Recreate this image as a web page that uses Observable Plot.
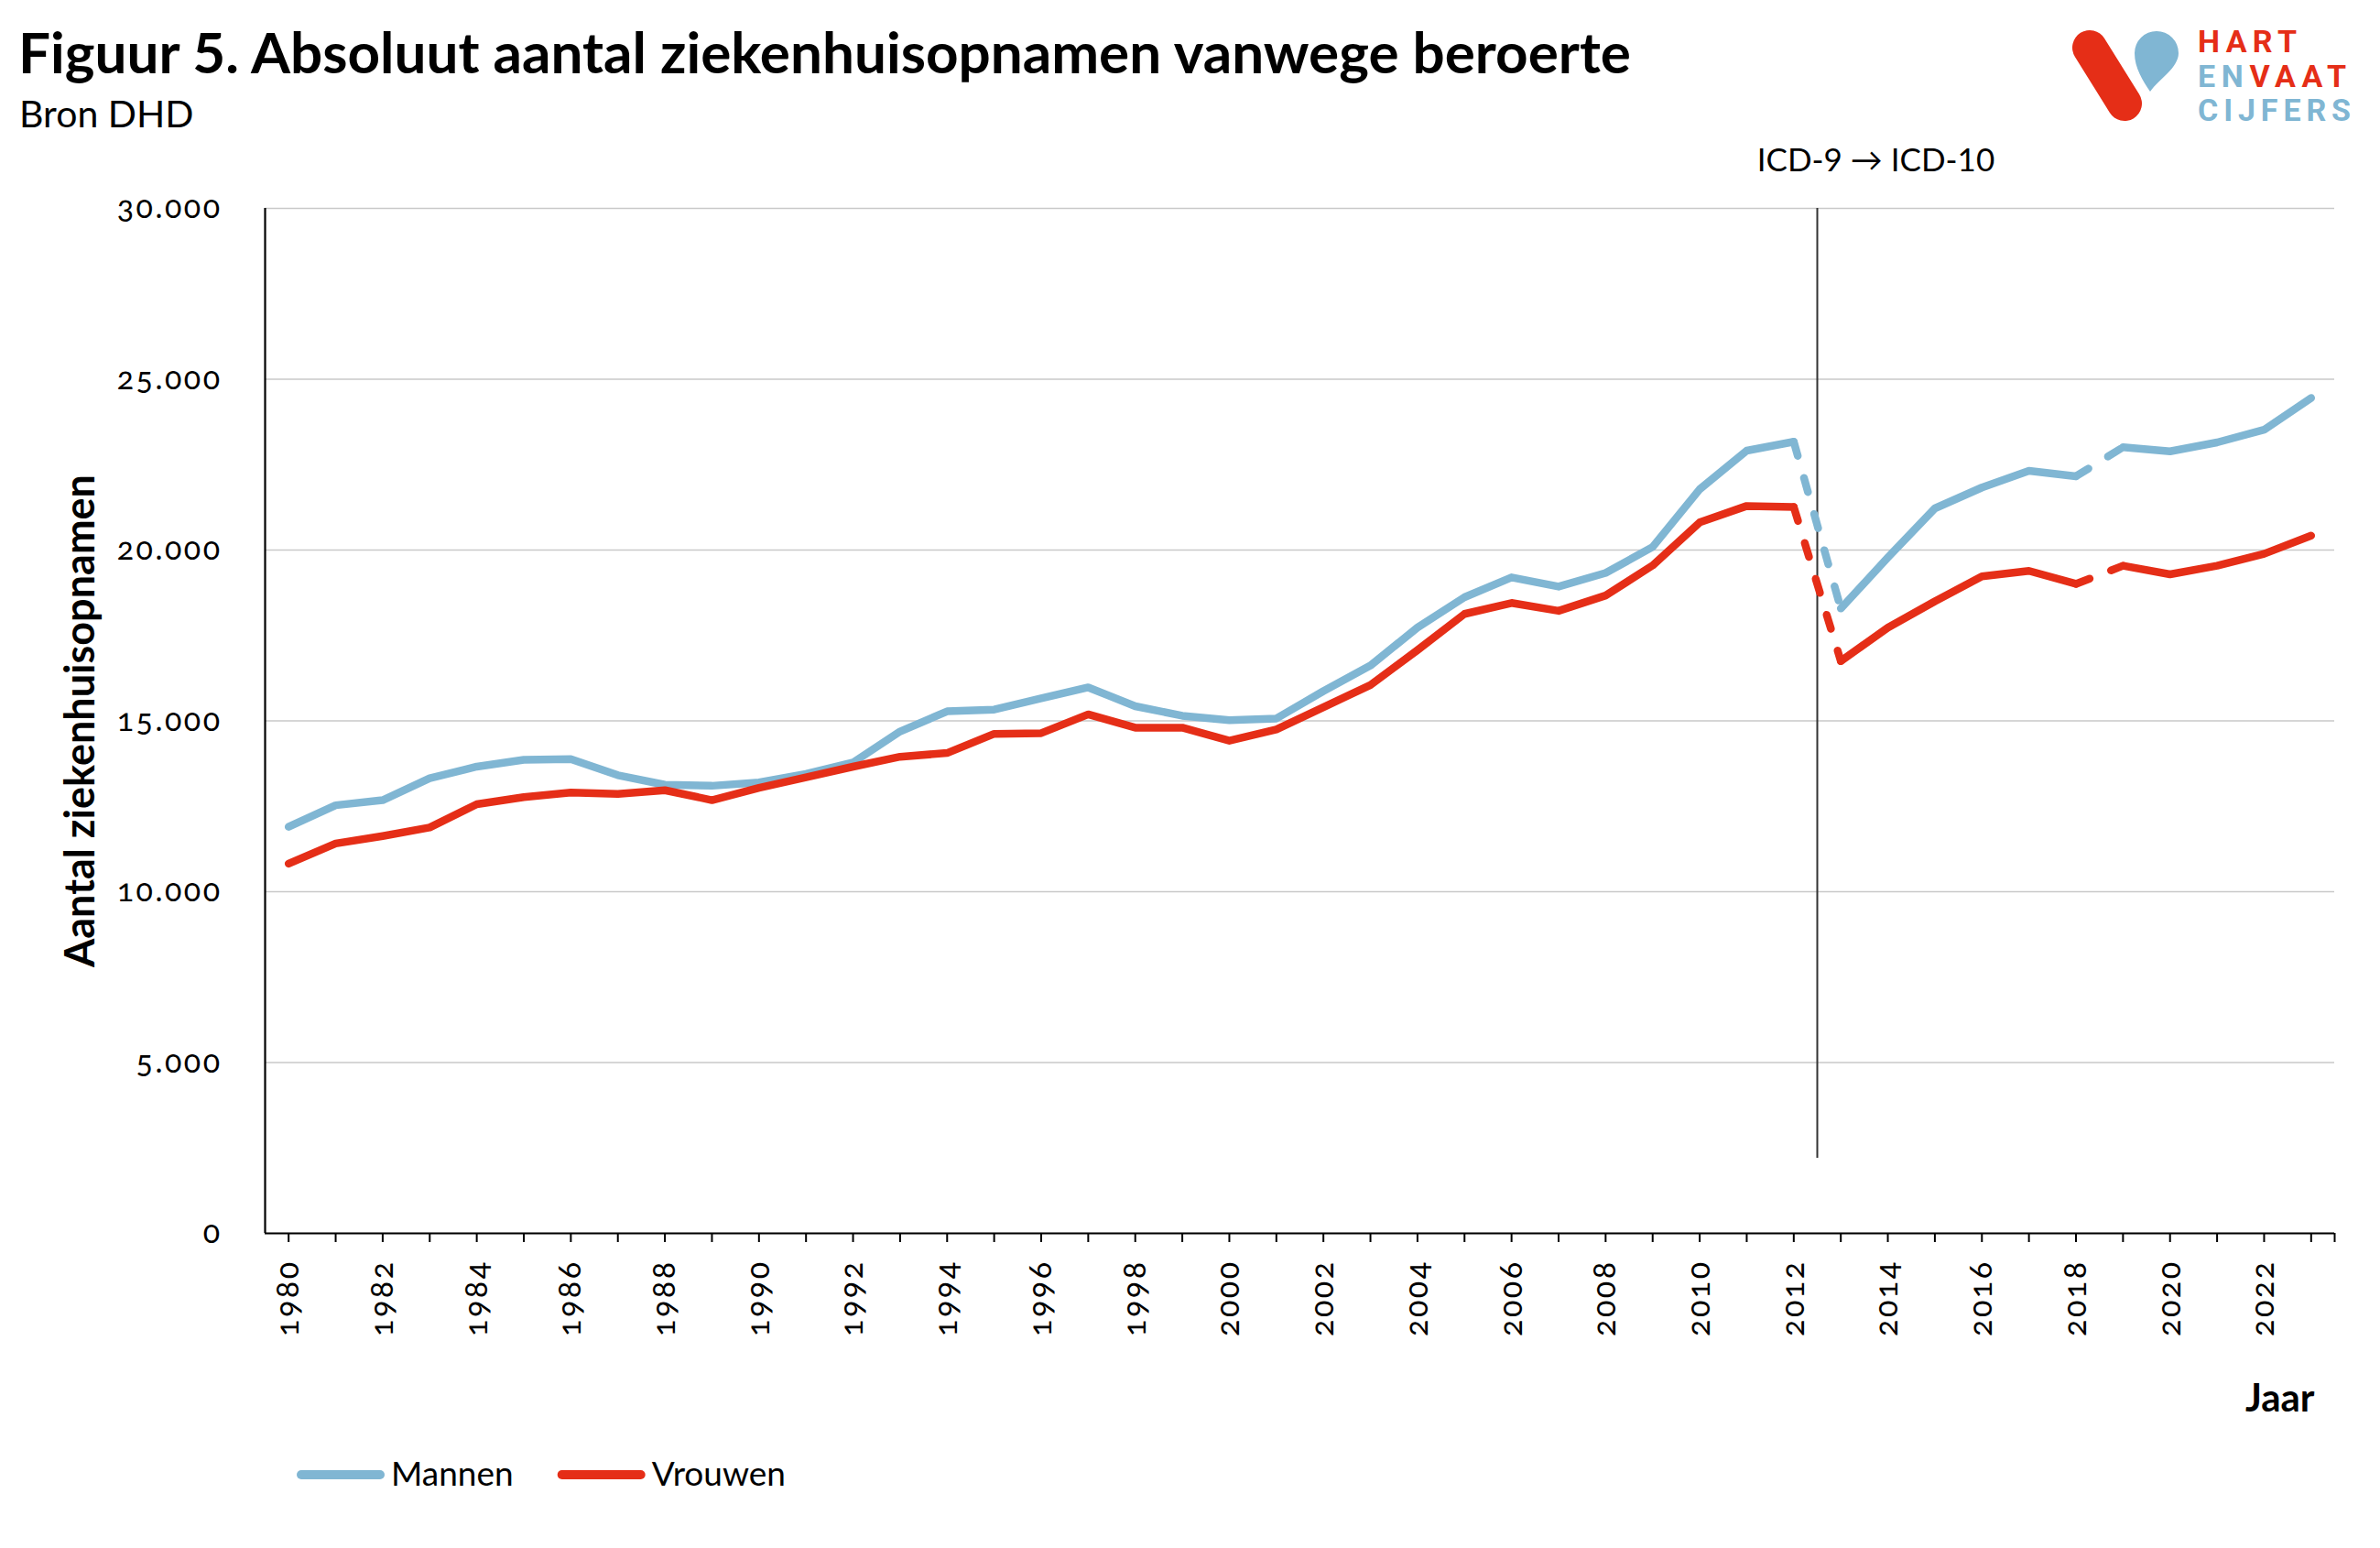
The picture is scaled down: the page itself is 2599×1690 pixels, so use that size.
<!DOCTYPE html>
<html><head><meta charset="utf-8">
<script src="https://cdn.jsdelivr.net/npm/d3@7"></script>
<script src="https://cdn.jsdelivr.net/npm/@observablehq/plot@0.6"></script>
<style>
html,body{margin:0;padding:0;background:#fff;}
body{width:2599px;height:1690px;overflow:hidden;font-family:Lato, sans-serif;}
svg{display:block;}
g[aria-label="y-axis tick label"], g[aria-label="x-axis tick label"]{font-variant-numeric:oldstyle-nums;letter-spacing:2.5px;}
</style></head><body>
<div id="header"></div>
<div id="chart"></div>
<div id="legend"></div>
<script>
const titleText = "Figuur 5. Absoluut aantal ziekenhuisopnamen vanwege beroerte";
const subtitleText = "Bron DHD";
const yLabel = "Aantal ziekenhuisopnamen";
const xLabel = "Jaar";
const years = [1980,1981,1982,1983,1984,1985,1986,1987,1988,1989,1990,1991,1992,1993,1994,1995,1996,1997,1998,1999,2000,2001,2002,2003,2004,2005,2006,2007,2008,2009,2010,2011,2012,2013,2014,2015,2016,2017,2018,2019,2020,2021,2022,2023];
const mannen = [11900,12530,12680,13320,13660,13860,13880,13410,13130,13100,13200,13450,13780,14690,15280,15330,15660,15980,15430,15150,15020,15070,15870,16620,17730,18620,19200,18930,19330,20090,21780,22910,23170,18290,19780,21220,21830,22320,22160,23010,22890,23150,23520,24450];
const vrouwen = [10820,11410,11630,11880,12560,12770,12900,12860,12970,12680,13040,13350,13660,13950,14060,14620,14640,15190,14800,14800,14420,14750,15400,16050,17070,18130,18450,18220,18670,19550,20810,21290,21260,16750,17730,18500,19230,19390,19010,19540,19290,19540,19890,20420];
const seriesNames = ["Mannen", "Vrouwen"];
const seriesColors = ["#80b6d3", "#e52e17"];
const yTicks = [0, 5000, 10000, 15000, 20000, 25000, 30000];
const solidRanges = [[1980, 2012], [2013, 2018], [2019, 2023]];
const dashedRanges = [[2012, 2013], [2018, 2019]];
const icdNote = [{year: 2012.5, from: 2200, to: 30000, label: "ICD-9 \u2192 ICD-10"}];

const seriesValues = {Mannen: mannen, Vrouwen: vrouwen};
function buildRows(ranges, kind) {
  const out = [];
  seriesNames.forEach(s => ranges.forEach(([a, b], i) => {
    years.forEach((yr, j) => {
      if (yr >= a && yr <= b) out.push({series: s, seg: s + "-" + kind + "-" + i, year: yr, value: seriesValues[s][j]});
    });
  }));
  return out;
}
const solidRows = buildRows(solidRanges, "solid");
const dashedRows = buildRows(dashedRanges, "dash");

const nl = d3.formatLocale({decimal: ",", thousands: ".", grouping: [3], currency: ["\u20ac ", ""]});
const fmt = nl.format(",");
const xDomain = [years[0] - 0.5, years[years.length - 1] + 0.5];
const xTicks = [...years, xDomain[1]];

const chart = Plot.plot({
  width: 2599, height: 1420,
  marginTop: 77, marginBottom: 224, marginLeft: 289, marginRight: 50,
  style: {fontFamily: "Lato, sans-serif", fontSize: "34px", color: "#000", background: "#fff", overflow: "visible"},
  x: {type: "linear", domain: xDomain},
  y: {domain: [0, 30000]},
  color: {domain: seriesNames, range: seriesColors},
  marks: [
    Plot.gridY(yTicks, {stroke: "#c9c9c9", strokeOpacity: 1, strokeWidth: 1.6}),
    Plot.axisY({ticks: yTicks, tickFormat: fmt, tickSize: 0, tickPadding: 47, label: null, fontSize: 34}),
    Plot.axisX({ticks: xTicks, tickFormat: d => (Number.isInteger(d) && d % 2 === 0 ? String(d) : ""), tickSize: 10, tickPadding: 19, tickRotate: -90, label: null, strokeWidth: 2, fontSize: 34}),
    Plot.ruleY([0], {stroke: "#000", strokeWidth: 2.2}),
    Plot.ruleX([xDomain[0]], {y1: 0, y2: 30000, stroke: "#000", strokeWidth: 2.2}),
    Plot.ruleX(icdNote, {x: "year", y1: "from", y2: "to", stroke: "#333", strokeWidth: 2}),
    Plot.text(icdNote, {x: "year", y: "to", text: "label", dx: 64, dy: -52, fontSize: 35, lineAnchor: "middle", fill: "#000"}),
    Plot.line(solidRows, {x: "year", y: "value", z: "seg", stroke: "series", strokeWidth: 8.5, strokeLinecap: "round", strokeLinejoin: "round"}),
    Plot.line(dashedRows, {x: "year", y: "value", z: "seg", stroke: "series", strokeWidth: 8.5, strokeLinecap: "round", strokeLinejoin: "round", strokeDasharray: "16,25"}),
    Plot.text([xLabel], {frameAnchor: "bottom-right", textAnchor: "end", lineAnchor: "top", dx: -22, dy: 165, fontSize: 42, fontWeight: "bold", fill: "#000"}),
    Plot.text([yLabel], {frameAnchor: "left", rotate: -90, textAnchor: "middle", lineAnchor: "top", dx: -218, fontSize: 45, fontWeight: "bold", fill: "#000"})
  ]
});
document.getElementById("chart").appendChild(chart);

// Header
const header = d3.select("#header").append("svg").attr("width", 2599).attr("height", 150)
  .style("font-family", "Lato, sans-serif");
header.append("text").attr("x", 20).attr("y", 80).attr("font-size", 62).attr("font-weight", 700).attr("fill", "#000").text(titleText);
header.append("text").attr("x", 21).attr("y", 139).attr("font-size", 41).attr("fill", "#000").text(subtitleText);
const logo = header.append("g");
logo.append("line").attr("x1", 2282).attr("y1", 52).attr("x2", 2320).attr("y2", 113)
  .attr("stroke", seriesColors[1]).attr("stroke-width", 38).attr("stroke-linecap", "round");
logo.append("path").attr("d", "M2348 100 C2340 88 2331 74 2331 58 A24 24 0 0 1 2379 58 C2379 74 2358 86 2348 100 Z").attr("fill", seriesColors[0]);
const logoLines = [
  {y: 57, parts: [["HART", seriesColors[1]]]},
  {y: 95, parts: [["EN", seriesColors[0]], ["VAAT", seriesColors[1]]]},
  {y: 132, parts: [["CIJFERS", seriesColors[0]]]}
];
const logoWidths = [108, 162, 167];
logoLines.forEach((ln, i) => {
  const t = logo.append("text").attr("x", 2400).attr("y", ln.y).attr("font-family", "Roboto, sans-serif")
    .attr("font-weight", 700).attr("font-size", 34).attr("textLength", logoWidths[i]).attr("lengthAdjust", "spacing");
  ln.parts.forEach(([s, c]) => t.append("tspan").attr("fill", c).text(s));
});

// Legend
const legend = d3.select("#legend").append("svg").attr("width", 2599).attr("height", 120)
  .style("font-family", "Lato, sans-serif");
let lx = 324;
seriesNames.forEach((s, i) => {
  legend.append("line").attr("x1", lx + 5).attr("x2", lx + 91).attr("y1", 40).attr("y2", 40)
    .attr("stroke", seriesColors[i]).attr("stroke-width", 10).attr("stroke-linecap", "round");
  const t = legend.append("text").attr("x", lx + 103).attr("y", 52).attr("font-size", 37).attr("fill", "#000").text(s);
  lx += 103 + t.node().getComputedTextLength() + 48;
});
</script>
</body></html>
